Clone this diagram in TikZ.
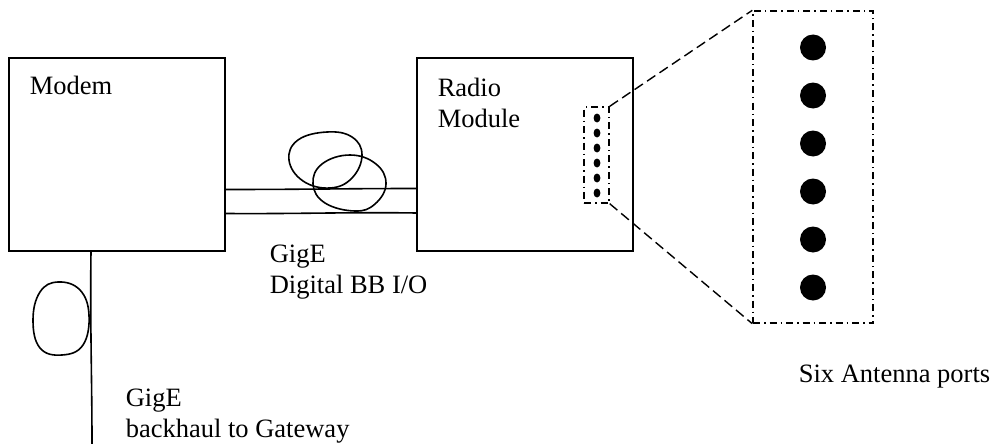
\documentclass[tikz,border=0pt]{standalone}
\usepackage{fontspec}
\setmainfont{Liberation Serif}
\begin{document}
\begin{tikzpicture}[x=1pt,y=-1pt,
  line width=1.6pt,
  unit/.style={draw, minimum width=216pt, minimum height=193pt, inner sep=0pt},
  lbl/.style={anchor=base west, inner sep=0pt, align=left,
    font=\fontsize{26.5}{31}\selectfont},
  portbox/.style={draw, inner sep=0pt, line width=1.4pt,
    dash pattern=on 7pt off 4pt on 1.5pt off 4pt},
  zoomline/.style={line width=1.4pt, dash pattern=on 10pt off 5pt},
  cable/.style={line width=1.6pt, line join=round}
]
\useasboundingbox (0,0) rectangle (993,444);

% equipment boxes
\node[unit] (modem) at (117,154.5) {};
\node[unit] (radio) at (525,154.5) {};

% multi-line labels are placed by the baseline of their last line
\node[lbl] (modemlbl) at (29,95) {Modem};
\node[lbl] (radiolbl) at (437,127) {Radio\\Module};

% GigE cable pair between modem and radio module
\draw[cable] ([yshift=-35pt]modem.east) .. controls (300,189.5) and (350,188.5) .. ([yshift=-34pt]radio.west);
\draw[cable] ([yshift=-59pt]modem.east) .. controls (300,214) and (350,212) .. ([yshift=-58.5pt]radio.west);

% cable loops
\draw[cable] plot[smooth cycle, tension=0.7] coordinates
  {(327,132) (352,137) (362,155) (352,178) (330,188) (303,181) (289,160) (298,140)};
\draw[cable] plot[smooth cycle, tension=0.7] coordinates
  {(350,155) (376,164) (386,184) (375,204) (355,211) (325,203) (313,184) (322,164)};

% backhaul cable
\coordinate (gw) at (92,444);
\draw[cable] ([xshift=-26pt]modem.south) .. controls (90,320) and (92,380) .. (gw);
\draw[cable] plot[smooth cycle, tension=0.7] coordinates
  {(58,282) (80,290) (89,315) (83,345) (62,355) (40,348) (33,320) (40,292)};

\node[lbl] (gige1) at (269,293) {GigE\\Digital BB I/O};
\node[lbl] (gige2) at (125,437) {GigE\\backhaul to Gateway};

% antenna ports on the radio module
\node[portbox, minimum width=25pt, minimum height=96pt] (ports) at (596.5,155) {};
\foreach \i in {0,...,5}
  \fill (597,118+15*\i) ellipse (3.4pt and 4.5pt);

% enlarged view of the ports
\node[portbox, minimum width=120pt, minimum height=312pt] (bigports) at (813,167) {};
\foreach \i in {0,...,5}
  \fill (813,47.5+48*\i) circle (13pt);

\draw[zoomline] (ports.north east) -- (bigports.north west);
\draw[zoomline] (ports.south east) -- (bigports.south west);

\node[lbl] (six) at (798,382) {Six Antenna ports};
\end{tikzpicture}
\end{document}
